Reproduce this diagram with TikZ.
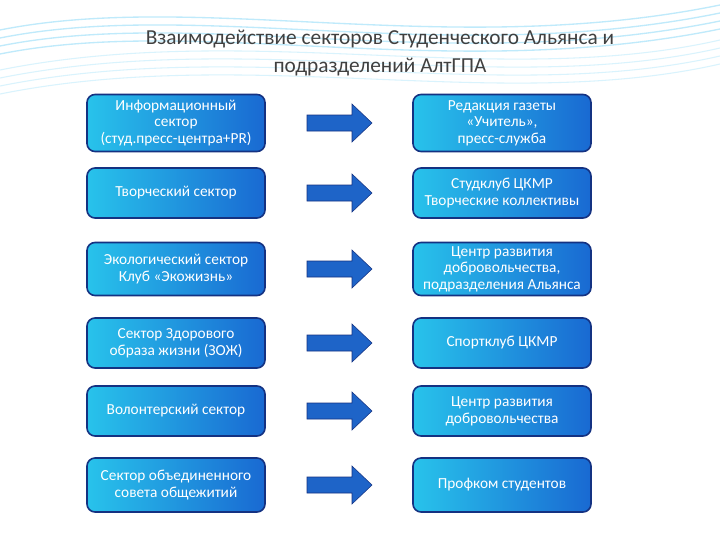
\documentclass[tikz,border=0pt]{standalone}
\usepackage{fontspec}
\setmainfont{Carlito}
\definecolor{bl}{RGB}{40,195,235}
\definecolor{br}{RGB}{25,105,210}
\definecolor{bd}{RGB}{20,50,130}
\definecolor{af}{RGB}{30,100,200}
\begin{document}
\begin{tikzpicture}[x=0.75pt,y=-0.75pt,
  box/.style={draw=bd,line width=1.2pt,rounded corners=6pt,left color=bl,right color=br,text=white,minimum width=178*0.75pt,align=center,font=\fontsize{11.5}{12.5}\selectfont,inner sep=1pt},
  arr/.style={fill=af,draw=bd,line width=0.4pt}]
\useasboundingbox (0,0) rectangle (720,540);
\fill[white] (0,0) rectangle (720,540);
\foreach \o in {0,8,16,24}{
 \draw[cyan!25,line width=1pt] (0,{30+\o}) .. controls (200,{-10+\o}) and (450,{60+\o}) .. (720,{5+\o});
 \draw[cyan!15,line width=0.8pt] (0,{70+\o}) .. controls (250,{20+\o}) and (500,{90+\o}) .. (720,{40+\o});}
\node[text=black!75,align=center,font=\fontsize{16}{21}\selectfont] (t) at (380,53) {Взаимодействие секторов Студенческого Альянса и\\подразделений АлтГПА};
\def\rows{123/57/{Информационный\\сектор\\(студ.пресс-центра+PR)}/{Редакция газеты\\«Учитель»,\\пресс-служба}/a,
 193/50/{Творческий сектор}/{Студклуб ЦКМР\\Творческие коллективы}/b,
 269/53/{Экологический сектор\\Клуб «Экожизнь»}/{Центр развития\\добровольчества,\\подразделения Альянса}/c,
 343/50/{Сектор Здорового\\образа жизни (ЗОЖ)}/{Спортклуб ЦКМР}/d,
 411/50/{Волонтерский сектор}/{Центр развития\\добровольчества}/e,
 485/54/{Сектор объединенного\\совета общежитий}/{Профком студентов}/f}
\foreach \y/\h/\l/\r/\n in \rows {
 \node[box,minimum height=\h*0.75pt] (L\n) at (176,\y) {\l};
 \node[box,minimum height=\h*0.75pt] (R\n) at (502,\y) {\r};
 \path (L\n.east) -- (R\n.west) coordinate[pos=0.5] (m\n);
 \draw[arr] ([shift={(-32,-8)}]m\n) -- ++(45,0) -- ++(0,-11) -- ++(20,19) -- ++(-20,19) -- ++(0,-11) -- ++(-45,0) -- cycle;
}
\end{tikzpicture}
\end{document}
